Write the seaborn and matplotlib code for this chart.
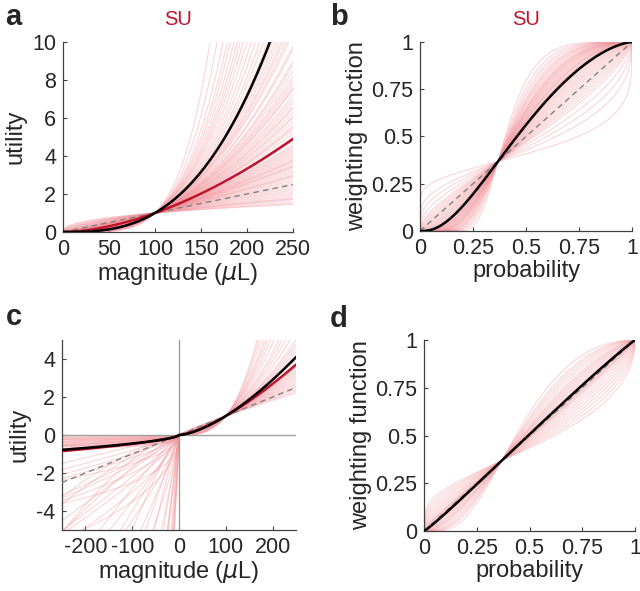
import numpy as np
import pandas as pd
import seaborn as sns
import matplotlib.pyplot as plt

# ---------------- data ----------------
# panel a: utility at 250 uL for each pink curve (curves normalised to 1 at 100 uL)
a_pink_end = [90, 60, 45, 38, 34, 30, 27, 25, 23, 21, 19, 17.5, 16, 15, 14, 13,
              12.5, 12, 11.5, 11.2, 10.8, 10.5, 9.8, 9.6, 9.0, 8.8, 8.5, 8.2,
              8.0, 7.8, 7.6, 7.5, 7.2, 7.0, 6.8, 6.6, 6.5, 6.3, 6.1, 6.0, 5.8,
              5.6, 5.5, 5.4, 5.2, 5.0, 4.9, 4.8, 4.6, 4.5, 4.4, 4.3, 4.2, 4.1,
              4.0, 3.9, 3.8, 3.75, 3.7, 3.6, 3.5, 3.45, 3.4, 3.3, 3.2, 3.1, 3.0,
              2.95, 2.9, 2.8, 2.7, 2.6, 2.5, 2.4, 2.3, 2.2, 2.1, 2.0, 1.9, 1.8,
              1.75, 1.7, 1.6, 1.5, 1.45]
a_black_end = 13.5
a_red_end = 4.9

# panel b: Prelec curvature of each pink curve, and of the black fit
b_pink_alpha = [0.3, 0.45, 0.55, 0.65, 0.75, 0.8, 0.85, 0.9, 0.95, 1.0, 1.05,
                1.1, 1.15, 1.2, 1.25, 1.3, 1.35, 1.4, 1.45, 1.5, 1.52, 1.55,
                1.58, 1.6, 1.65, 1.7, 1.72, 1.75, 1.8, 1.85, 1.9, 1.95, 2.0,
                2.05, 2.1, 2.15, 2.2, 2.25, 2.3, 2.4, 2.5, 2.6, 2.7, 2.8, 3.0,
                3.2, 3.5, 4.0]
b_black_alpha = 1.5

# panel c: gains = utility at 250 uL; losses = (scale, curvature)
c_gain_end = [2.2, 2.3, 2.4, 2.5, 2.6, 2.7, 2.8, 2.9, 3.0, 3.1, 3.2, 3.3,
              3.4, 3.5, 3.6, 3.7, 3.8, 4.0, 4.2, 4.4, 4.6, 4.8, 5.0, 5.5,
              6.0, 6.5, 7.0, 8.0, 9.0, 10.0, 11.0, 12.0, 14.0, 16.0, 18.0]
c_loss_scale = [0.05, 0.1, 0.15, 0.2, 0.25, 0.3, 0.35, 0.4, 0.45, 0.5, 0.2,
                0.3, 0.12, 0.4, 0.5, 0.55, 0.6, 0.28, 0.38, 0.18, 0.08, 0.22,
                0.33, 0.42, 0.48,
                0.6, 0.8, 1.0, 1.2, 1.4, 1.6, 1.8, 2.0, 2.2, 2.5, 2.8, 3.0,
                3.5, 4.0, 4.5, 5.0, 6.0, 7.0, 8.0, 10.0, 12.0, 15.0, 20.0,
                25.0, 30.0, 1.5, 2.5, 3.5, 1.1, 1.3, 0.9, 1.7,
                18.0, 22.0, 28.0, 35.0, 40.0, 50.0]
c_loss_curv = [0.2, 0.3, 0.4, 0.5, 0.3, 0.6, 0.4, 0.5, 0.3, 0.2, 0.2,
               0.3, 0.5, 0.7, 0.4, 0.3, 0.2, 0.45, 0.25, 0.35, 0.6, 0.55,
               0.5, 0.35, 0.6,
               1.0, 0.9, 0.8, 0.7, 0.9, 0.8, 1.0, 0.6, 0.9, 0.8, 1.1, 0.7,
               0.9, 1.0, 0.8, 1.2, 0.9, 1.0, 0.8, 1.1, 0.9, 1.0, 1.0,
               0.8, 1.0, 0.5, 0.4, 0.5, 1.3, 1.5, 1.4, 1.2,
               0.9, 1.0, 0.8, 1.0, 0.9, 1.0]
c_black_gain_end, c_black_loss = 4.1, (0.45, 0.6)
c_red_gain_end, c_red_loss = 3.7, (0.47, 0.65)

# panel d: Prelec curvature
d_pink_alpha = [0.5, 0.55, 0.6, 0.65, 0.7, 0.75, 0.8, 0.85, 0.9, 0.92, 0.95,
                0.97, 1.0, 1.02, 1.05, 1.08, 1.1, 1.15, 1.2, 1.25, 1.3, 1.35,
                1.4, 1.5, 1.6, 1.7, 1.8, 2.0]
d_black_alpha = 1.05

PINK = '#f2939b'
RED = '#c0142c'
GRAY_DASH = '#808080'
FONT = ['Liberation Sans', 'DejaVu Sans']
TICK_FS = 15.5
LABEL_FS = 17


def power_curve(x, end):
    rho = np.log(end) / np.log(2.5)
    return (x / 100.0) ** rho


def prelec(p, alpha):
    return np.exp(-(-np.log(p)) ** alpha)


def long_df(x, ys):
    frames = [pd.DataFrame({'x': x, 'y': y, 'unit': i}) for i, y in enumerate(ys)]
    return pd.concat(frames, ignore_index=True)


def pink_lines(ax, df):
    sns.lineplot(data=df, x='x', y='y', units='unit', estimator=None,
                 color=PINK, alpha=0.34, lw=0.9, ax=ax, legend=False,
                 zorder=1)


def style(ax):
    for s in ['top', 'right']:
        ax.spines[s].set_visible(False)
    for s in ['left', 'bottom']:
        ax.spines[s].set_color('#404040')
        ax.spines[s].set_linewidth(0.9)
    ax.tick_params(direction='in', length=3, width=0.8, color='#404040',
                   labelsize=TICK_FS, pad=5)
    ax.grid(False)


sns.set_theme(style='ticks')
plt.rcParams['font.family'] = FONT
plt.rcParams['mathtext.fontset'] = 'dejavusans'
plt.rcParams['axes.unicode_minus'] = False

W, H = 640, 591
fig = plt.figure(figsize=(W / 100, H / 100), dpi=100)


def px_axes(l, t, r, b):
    return fig.add_axes([l / W, 1 - b / H, (r - l) / W, (b - t) / H])


# ---------------- panel a ----------------
ax = px_axes(63, 42, 293, 232)
xa = np.linspace(0, 250, 400)
pink_lines(ax, long_df(xa, [power_curve(xa, v) for v in a_pink_end]))
sns.lineplot(x=xa, y=xa / 100, color=GRAY_DASH, lw=1, ax=ax,
             linestyle=(0, (4, 3)), zorder=3)
sns.lineplot(x=xa, y=power_curve(xa, a_red_end), color=RED, lw=1.8, ax=ax, zorder=4)
sns.lineplot(x=xa, y=power_curve(xa, a_black_end), color='black', lw=1.8, ax=ax, zorder=5)
ax.set_xlim(0, 250)
ax.set_ylim(0, 10)
ax.set_xticks([0, 50, 100, 150, 200, 250])
ax.set_yticks([0, 2, 4, 6, 8, 10])
ax.set_xlabel('magnitude ($\\mu$L)', fontsize=LABEL_FS, labelpad=1)
ax.set_ylabel('utility', fontsize=LABEL_FS, labelpad=4)
ax.set_title('SU', color=RED, fontsize=14.5, pad=12)
style(ax)

# ---------------- panel b ----------------
ax = px_axes(420, 42, 632, 231)
pb = np.linspace(1e-4, 1, 400)
pink_lines(ax, long_df(pb, [prelec(pb, a) for a in b_pink_alpha]))
sns.lineplot(x=pb, y=pb, color=GRAY_DASH, lw=1, ax=ax, linestyle=(0, (4, 3)), zorder=3)
sns.lineplot(x=pb, y=prelec(pb, b_black_alpha), color='black', lw=1.8, ax=ax, zorder=5)
ax.set_xlim(0, 1)
ax.set_ylim(0, 1)
ticks = [0, 0.25, 0.5, 0.75, 1]
labels = ['0', '0.25', '0.5', '0.75', '1']
ax.set_xticks(ticks, labels)
ax.set_yticks(ticks, labels)
ax.set_xlabel('probability', fontsize=LABEL_FS, labelpad=1)
ax.set_ylabel('weighting function', fontsize=LABEL_FS, labelpad=2)
ax.set_title('SU', color=RED, fontsize=14.5, pad=12)
style(ax)

# ---------------- panel c ----------------
ax = px_axes(62, 340, 296, 530)
xg = np.linspace(0, 250, 300)
xl = np.linspace(-250, 0, 300)
pink_lines(ax, long_df(xg, [power_curve(xg, v) for v in c_gain_end]))
pink_lines(ax, long_df(xl, [-s * (-xl / 100) ** c
                            for s, c in zip(c_loss_scale, c_loss_curv)]))
ax.axvline(0, color='#a0a0a0', lw=1, zorder=2)
ax.axhline(0, color='#a0a0a0', lw=1, zorder=2)
xc = np.linspace(-250, 250, 601)
sns.lineplot(x=xc, y=xc / 100, color=GRAY_DASH, lw=1, ax=ax, linestyle=(0, (4, 3)), zorder=3)


def gain_loss(x, gain_end, loss):
    y = np.empty_like(x)
    pos = x >= 0
    y[pos] = power_curve(x[pos], gain_end)
    y[~pos] = -loss[0] * (-x[~pos] / 100) ** loss[1]
    return y


sns.lineplot(x=xc, y=gain_loss(xc, c_red_gain_end, c_red_loss), color=RED, lw=1.8, ax=ax, zorder=4)
sns.lineplot(x=xc, y=gain_loss(xc, c_black_gain_end, c_black_loss), color='black', lw=1.8, ax=ax, zorder=5)
ax.set_xlim(-250, 250)
ax.set_ylim(-5, 5)
ax.set_xticks([-200, -100, 0, 100, 200])
ax.set_yticks([-4, -2, 0, 2, 4])
ax.set_xlabel('magnitude ($\\mu$L)', fontsize=LABEL_FS, labelpad=1)
ax.set_ylabel('utility', fontsize=LABEL_FS, labelpad=4)
style(ax)

# ---------------- panel d ----------------
ax = px_axes(424, 340, 635, 531)
pink_lines(ax, long_df(pb, [prelec(pb, a) for a in d_pink_alpha]))
sns.lineplot(x=pb, y=pb, color=GRAY_DASH, lw=1, ax=ax, linestyle=(0, (4, 3)), zorder=3)
sns.lineplot(x=pb, y=prelec(pb, d_black_alpha), color='black', lw=1.8, ax=ax, zorder=5)
ax.set_xlim(0, 1)
ax.set_ylim(0, 1)
ax.set_xticks(ticks, labels)
ax.set_yticks(ticks, labels)
ax.set_xlabel('probability', fontsize=LABEL_FS, labelpad=1)
ax.set_ylabel('weighting function', fontsize=LABEL_FS, labelpad=2)
style(ax)

# panel letters
for letter, (px, py) in zip('abcd', [(5, 25), (330, 25), (6, 325), (330, 327)]):
    fig.text(px / W, 1 - py / H, letter, fontsize=21, fontweight='bold',
             ha='left', va='baseline')

fig.savefig('out.png', dpi=100)
